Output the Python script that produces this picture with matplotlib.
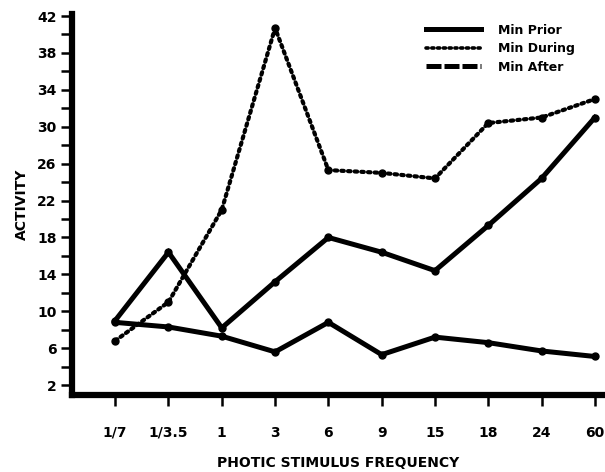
import matplotlib.pyplot as plt
from matplotlib.lines import Line2D
from matplotlib.ticker import MultipleLocator

plt.rcParams['font.family'] = ['DejaVu Sans']
plt.rcParams['font.weight'] = 'bold'
plt.rcParams['axes.labelweight'] = 'bold'

frequencies = ['1/7', '1/3.5', '1', '3', '6', '9', '15', '18', '24', '60']
min_prior = [9.0, 16.4, 8.2, 13.2, 18.0, 16.4, 14.4, 19.3, 24.4, 31.0]
min_during = [6.8, 11.0, 21.0, 40.7, 25.3, 25.0, 24.4, 30.4, 31.0, 33.0]
min_after = [8.8, 8.3, 7.3, 5.6, 8.8, 5.3, 7.2, 6.6, 5.7, 5.1]
y_labels = list(range(2, 43, 4))

fig = plt.figure(figsize=(6.05, 4.72), dpi=100)
ax = fig.add_axes([0.119, 0.163, 0.881, 0.807])

x = list(range(len(frequencies)))
ax.plot(x, min_prior, color='black', lw=3.6, marker='o', ms=5,
        solid_joinstyle='miter')
ax.plot(x, min_after, color='black', lw=3.6, marker='o', ms=5,
        solid_joinstyle='miter')
ax.plot(x, min_during, color='black', lw=3.0, ls=(0, (0.6, 1.0)),
        dash_capstyle='round', marker='o', ms=5)

ax.set_xlim(-0.81, 9.19)
ax.set_ylim(0.92, 42.2)
ax.set_xticks(x)
ax.set_xticklabels(frequencies, fontsize=10)
ax.set_yticks(y_labels)
ax.set_yticklabels([str(v) for v in y_labels], fontsize=10)
ax.yaxis.set_minor_locator(MultipleLocator(2))

for side in ['top', 'right']:
    ax.spines[side].set_visible(False)
for side in ['left', 'bottom']:
    ax.spines[side].set_linewidth(4.5)
    ax.spines[side].set_capstyle('projecting')
ax.tick_params(axis='both', which='both', direction='out', length=8,
               width=1.8, color='black')
ax.tick_params(axis='y', pad=3)
ax.tick_params(axis='x', pad=14)

ax.set_xlabel('PHOTIC STIMULUS FREQUENCY', fontsize=10, labelpad=12)
ax.set_ylabel('ACTIVITY', fontsize=10, labelpad=6)

handles = [
    Line2D([], [], color='black', lw=3.6),
    Line2D([], [], color='black', lw=2.6, ls=(0, (0.6, 1.0)), dash_capstyle='round'),
    Line2D([], [], color='black', lw=3.6, ls=(0, (3, 0.6))),
]
ax.legend(handles, ['Min Prior', 'Min During', 'Min After'], loc='upper right',
          bbox_to_anchor=(0.965, 1.005), frameon=False, fontsize=9,
          handlelength=4.4, handletextpad=1.4, labelspacing=0.45)

fig.savefig('out.png', dpi=100)
